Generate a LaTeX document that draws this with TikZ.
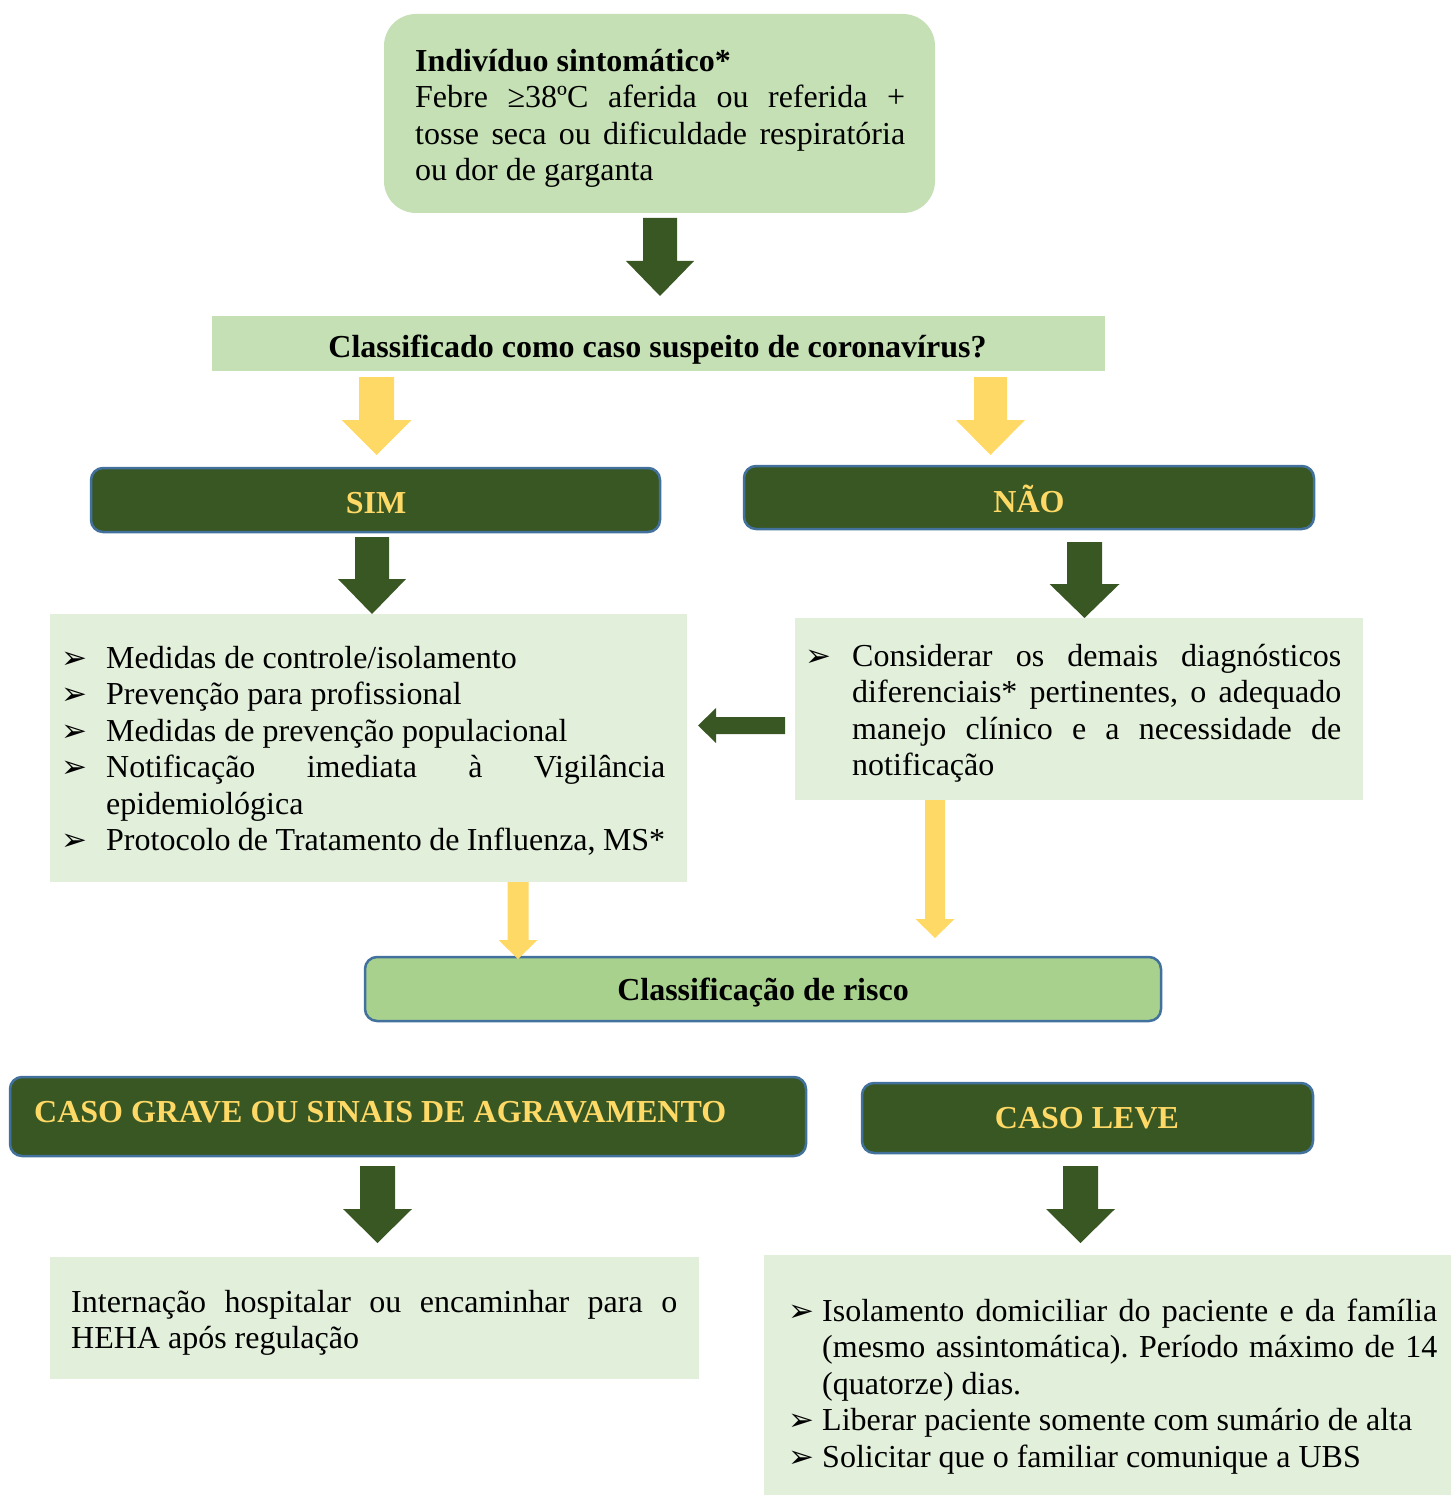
\documentclass[tikz,border=0pt]{standalone}
\usepackage{fontspec}
\setmainfont{Liberation Serif}
\newfontfamily\dejavu{DejaVu Sans}
\definecolor{lightgreen}{HTML}{C5E0B4}
\definecolor{palegreen}{HTML}{E2EFDA}
\definecolor{midgreen}{HTML}{A9D18E}
\definecolor{darkgreen}{HTML}{385723}
\definecolor{goldy}{HTML}{FFD966}
\definecolor{edgeblue}{HTML}{41719C}
\newcommand{\bul}{{\dejavu\fontsize{31}{31}\selectfont ➢}}
\newcommand{\firstrule}{\rule{0pt}{28pt}}
\newcommand{\itm}[2]{\noindent\llap{\makebox[#1][l]{\bul}}\firstrule #2\par}
% vertical block arrow: colour, cx, shaft top, head top, tip, shaft half width, head half width
\newcommand{\varrow}[7]{\fill[#1] (#2-#6,#3) -- (#2+#6,#3) -- (#2+#6,#4) -- (#2+#7,#4) -- (#2,#5) -- (#2-#7,#4) -- (#2-#6,#4) -- cycle;}
\frenchspacing
\begin{document}
\begin{tikzpicture}[x=1pt,y=-1pt,
  panel/.style={rectangle, inner sep=0pt, draw=none},
  darkbox/.style={rectangle, rounded corners=12pt, fill=darkgreen, draw=edgeblue, line width=2.5pt, inner sep=0pt},
  body/.style={inner sep=0pt, anchor=north west, align=justify, font=\fontsize{32}{36.5}\selectfont},
  boldlbl/.style={inner sep=0pt, font=\fontsize{32}{36.5}\selectfont\bfseries},
  yellowlbl/.style={boldlbl, text=goldy}]
\useasboundingbox (0,0) rectangle (1451,1495);
\hyphenpenalty=10000 \exhyphenpenalty=10000 \tolerance=10000 \frenchspacing

% ---------- boxes ----------
\node[panel, fill=lightgreen, rounded corners=32pt, minimum width=551pt, minimum height=199pt] (top) at (659.5,113.5) {};
\node[panel, fill=lightgreen, minimum width=893pt, minimum height=55pt] (bar) at (658.5,343.5) {};
\node[darkbox, minimum width=569pt, minimum height=64pt] (sim) at (375.5,500) {};
\node[darkbox, minimum width=570pt, minimum height=63pt] (nao) at (1029,497.5) {};
\node[panel, fill=palegreen, minimum width=637pt, minimum height=268pt] (simlist) at (368.5,748) {};
\node[panel, fill=palegreen, minimum width=568pt, minimum height=182pt] (naolist) at (1079,709) {};
\node[darkbox, fill=midgreen, minimum width=796pt, minimum height=64pt] (risco) at (763,989) {};
\node[darkbox, minimum width=796pt, minimum height=79pt] (grave) at (408,1116.5) {};
\node[darkbox, minimum width=451pt, minimum height=70pt] (leve) at (1087.5,1118) {};
\node[panel, fill=palegreen, minimum width=649pt, minimum height=122pt] (intern) at (374.5,1318) {};
\node[panel, fill=palegreen, minimum width=687pt, minimum height=240pt] (levelist) at (1107.5,1375) {};

% ---------- texts ----------
\node[body, text width=490pt] (toptxt) at (415,43)
  {\frenchspacing\firstrule\textbf{Indivíduo sintomático*}\par\noindent
   Febre ≥38ºC aferida ou referida +\linebreak tosse seca ou dificuldade respiratória\linebreak ou dor de garganta};
\node[boldlbl, anchor=base] (bartxt) at (657.5,357) {Classificado como caso suspeito de coronavírus?};
\node[yellowlbl, anchor=base] (simtxt) at (376,513) {SIM};
\node[yellowlbl, anchor=base] (naotxt) at (1029,512) {NÃO};
\node[body, text width=559pt] (simtxt2) at (106,640)
  {\frenchspacing
   \itm{45pt}{Medidas de controle/isolamento}
   \itm{45pt}{Prevenção para profissional}
   \itm{45pt}{Medidas de prevenção populacional}
   \itm{45pt}{Notificação imediata à Vigilância\linebreak epidemiológica}
   \itm{45pt}{Protocolo de Tratamento de Influenza, MS*}};
\node[body, text width=489pt] (naotxt2) at (852,638)
  {\frenchspacing
   \itm{47pt}{Considerar os demais diagnósticos\linebreak diferenciais* pertinentes, o adequado\linebreak manejo clínico e a necessidade de\linebreak notificação}};
\node[boldlbl, anchor=base] (riscotxt) at (763,1000) {Classificação de risco};
\node[yellowlbl, anchor=base west] (gravetxt) at (34,1122) {CASO GRAVE OU SINAIS DE AGRAVAMENTO};
\node[yellowlbl, anchor=base] (levetxt) at (1087,1128) {CASO LEVE};
\node[body, text width=606pt] (interntxt) at (71,1284)
  {\frenchspacing\firstrule Internação hospitalar ou encaminhar para o\linebreak HEHA após regulação};
\node[body, text width=615pt] (levetxt2) at (822,1293)
  {\frenchspacing
   \itm{34pt}{Isolamento domiciliar do paciente e da família\linebreak (mesmo assintomática). Período máximo de 14\linebreak (quatorze) dias.}
   \itm{34pt}{Liberar paciente somente com sumário de alta}
   \itm{34pt}{Solicitar que o familiar comunique a UBS}};

% ---------- block arrows ----------
\varrow{darkgreen}{660}{218}{261}{296}{17}{34}
\varrow{goldy}{376.5}{377}{420}{455}{17.5}{35}
\varrow{goldy}{990.5}{377}{420}{455}{16.5}{34.5}
\varrow{darkgreen}{372}{537}{579}{614}{17}{34}
\varrow{darkgreen}{1084.5}{542}{584}{618}{17.5}{35}
\fill[darkgreen] (785,717) -- (785,734) -- (716,734) -- (716,743) -- (698,725.5) -- (716,708) -- (716,717) -- cycle;
\varrow{goldy}{935}{800}{919}{938}{10}{19.5}
\varrow{goldy}{518}{882}{940}{959}{10.5}{19.5}
\varrow{darkgreen}{377.5}{1166}{1209}{1243}{17.5}{34.5}
\varrow{darkgreen}{1080.5}{1166}{1209}{1243}{17.5}{34.5}
\end{tikzpicture}
\end{document}
